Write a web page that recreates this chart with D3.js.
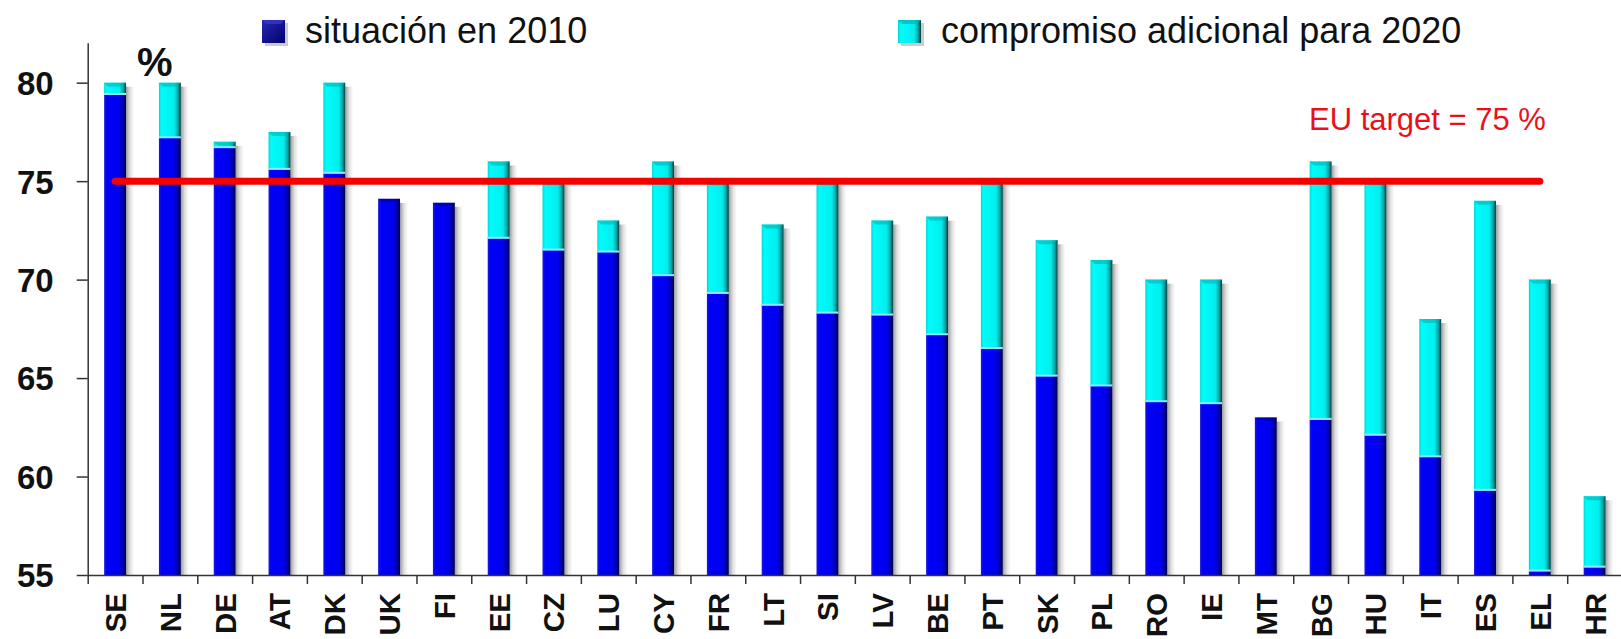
<!DOCTYPE html>
<html>
<head>
<meta charset="utf-8">
<script src="https://cdn.jsdelivr.net/npm/d3@7"></script>
<style>
  body { margin: 0; background: #fff; }
  svg { display: block; font-family: "Liberation Sans", Arial, sans-serif; }
</style>
</head>
<body>
<svg id="chart" width="1621" height="639"></svg>
<script>
const countries = ["SE", "NL", "DE", "AT", "DK", "UK", "FI", "EE", "CZ", "LU", "CY", "FR", "LT", "SI",
  "LV", "BE", "PT", "SK", "PL", "RO", "IE", "MT", "BG", "HU", "IT", "ES", "EL", "HR"];
// situación en 2010 (%)
const situacion2010 = [79.4, 77.2, 76.7, 75.6, 75.4, 74.1, 73.9, 72.1, 71.5, 71.4, 70.2, 69.3, 68.7, 68.3,
  68.2, 67.2, 66.5, 65.1, 64.6, 63.8, 63.7, 63.0, 62.9, 62.1, 61.0, 59.3, 55.2, 55.4];
// objetivo nacional 2020 (%) -> compromiso adicional = objetivo - situación
const objetivo2020 = [80, 80, 77, 77.5, 80, 74.1, 73.9, 76, 75, 73, 76, 75, 72.8, 75,
  73, 73.2, 75, 72, 71, 70, 70, 63.0, 76, 75, 68, 74, 70, 59];
const yTicks = [55, 60, 65, 70, 75, 80];
const euTarget = 75;
const legendLabels = ["situación en 2010", "compromiso adicional para 2020"];

const svg = d3.select("#chart");
const margin = { left: 87.7, right: 0, top: 42.7, bottom: 64 };
const width = 1621, height = 639;
const x0 = margin.left, x1 = 1622;
const yBottom = height - margin.bottom; // 575

const x = d3.scaleBand().domain(countries).range([x0, x1])
  .paddingInner(0.6).paddingOuter(0.3);
const y = d3.scaleLinear().domain([55, 82.03]).range([yBottom, margin.top]);

const data = countries.map((c, i) => ({
  c, base: situacion2010[i], extra: Math.max(0, objetivo2020[i] - situacion2010[i]), target: objetivo2020[i]
}));

// gradients
const defs = svg.append("defs");
function hGrad(id, stops) {
  const g = defs.append("linearGradient").attr("id", id).attr("x1", 0).attr("x2", 1).attr("y1", 0).attr("y2", 0);
  stops.forEach(([o, c, op]) => g.append("stop").attr("offset", o).attr("stop-color", c).attr("stop-opacity", op == null ? 1 : op));
}
hGrad("gBlue", [[0, "#1a1ad8"], [0.12, "#0000f8"], [0.7, "#0000ee"], [0.88, "#0000a0"], [1, "#00003a"]]);
hGrad("gCyan", [[0, "#00d8d8"], [0.12, "#00fcfc"], [0.7, "#00eeee"], [0.88, "#00a0a0"], [1, "#003838"]]);
hGrad("gShadow", [[0, "#000", 0.38], [0.5, "#000", 0.12], [1, "#000", 0]]);
const lg = defs.append("linearGradient").attr("id", "gNavy").attr("x1", 0).attr("x2", 1).attr("y1", 0).attr("y2", 1);
lg.append("stop").attr("offset", 0).attr("stop-color", "#2828b0");
lg.append("stop").attr("offset", 1).attr("stop-color", "#000070");

const bw = x.bandwidth();

// shadows
svg.append("g").selectAll("rect").data(data).join("rect")
  .attr("x", d => x(d.c) + bw)
  .attr("y", d => y(d.target) + 4)
  .attr("width", 8)
  .attr("height", d => yBottom - y(d.target) - 4)
  .attr("fill", "url(#gShadow)");

const bars = svg.append("g").selectAll("g").data(data).join("g")
  .attr("transform", d => `translate(${x(d.c)},0)`);

// situación en 2010
bars.append("rect")
  .attr("y", d => y(d.base))
  .attr("width", bw)
  .attr("height", d => yBottom - y(d.base))
  .attr("fill", "url(#gBlue)");

// compromiso adicional
const withExtra = bars.filter(d => d.extra > 0);
withExtra.append("rect")
  .attr("y", d => y(d.target))
  .attr("width", bw)
  .attr("height", d => y(d.base) - y(d.target))
  .attr("fill", "url(#gCyan)");
// bevel on top of cyan part
withExtra.append("path")
  .attr("d", d => {
    const t = y(d.target);
    return `M0,${t}L${bw},${t}L${bw - 4},${t + 4}L4,${t + 4}Z`;
  })
  .attr("fill", "#00b4b4").attr("opacity", 0.6);
// light seam between parts
withExtra.append("rect")
  .attr("y", d => y(d.base) - 1.5)
  .attr("width", bw)
  .attr("height", 2)
  .attr("fill", "#8ae8ff");
// bevel on top of bars without extra
bars.filter(d => d.extra === 0).append("path")
  .attr("d", d => {
    const t = y(d.base);
    return `M0,${t}L${bw},${t}L${bw - 3},${t + 3}L3,${t + 3}Z`;
  })
  .attr("fill", "#000090").attr("opacity", 0.6);

// y axis
const yAxis = svg.append("g")
  .attr("transform", `translate(${x0},0)`)
  .call(d3.axisLeft(y).tickValues(yTicks).tickSize(11).tickPadding(23).tickSizeOuter(0));
yAxis.select(".domain").attr("stroke", "#333").attr("stroke-width", 1.5);
yAxis.selectAll(".tick line").attr("stroke", "#333").attr("stroke-width", 1.5);
yAxis.selectAll(".tick text")
  .attr("font-size", 33).attr("font-weight", "bold").attr("fill", "#111")
  .attr("font-family", "Liberation Sans, Arial, sans-serif").attr("dy", "0.36em");

// x axis with ticks at band boundaries
const xb = d3.scaleLinear().domain([0, countries.length]).range([x0, x1]);
const xAxis = svg.append("g")
  .attr("transform", `translate(0,${yBottom})`)
  .call(d3.axisBottom(xb).tickValues(d3.range(0, countries.length + 1)).tickSize(9).tickSizeOuter(0).tickFormat(""));
xAxis.select(".domain").attr("stroke", "#333").attr("stroke-width", 1.5);
xAxis.selectAll(".tick line").attr("stroke", "#333").attr("stroke-width", 1.5);

svg.append("g").selectAll("text").data(countries).join("text")
  .attr("transform", d => `translate(${x(d) + bw / 2 + 11},${yBottom + 18}) rotate(-90)`)
  .attr("text-anchor", "end")
  .attr("font-size", 29.5).attr("font-weight", "bold").attr("fill", "#111")
  .text(d => d);

// EU target line
svg.append("line")
  .attr("x1", x(countries[0]) + bw / 2)
  .attr("x2", x(countries[countries.length - 2]) + bw / 2)
  .attr("y1", y(euTarget)).attr("y2", y(euTarget))
  .attr("stroke", "#f40000").attr("stroke-width", 7).attr("stroke-linecap", "round");

svg.append("text")
  .attr("x", 1309).attr("y", 130)
  .attr("font-size", 31).attr("fill", "#e8101a")
  .text(`EU target = ${euTarget} %`);

svg.append("text")
  .attr("x", 137).attr("y", 76)
  .attr("font-size", 40).attr("font-weight", "bold").attr("fill", "#111")
  .text("%");

// legend
const legend = svg.append("g");
const legendX = [262, 898];
const legendFills = ["url(#gNavy)", "url(#gCyan)"];
legendLabels.forEach((lab, i) => {
  const g = legend.append("g").attr("transform", `translate(${legendX[i]},20)`);
  g.append("rect").attr("x", 3).attr("y", 3).attr("width", 23).attr("height", 23).attr("fill", "#000").attr("opacity", 0.2);
  g.append("rect").attr("width", 23).attr("height", 23).attr("fill", legendFills[i]);
  g.append("path").attr("d", "M0,0L23,0L19,4L4,4Z").attr("fill", i ? "#00b4b4" : "#3a3ad0").attr("opacity", 0.7);
  g.append("text").attr("x", 43).attr("y", 22.7)
    .attr("font-size", 36).attr("fill", "#111").text(lab);
});
</script>
</body>
</html>
